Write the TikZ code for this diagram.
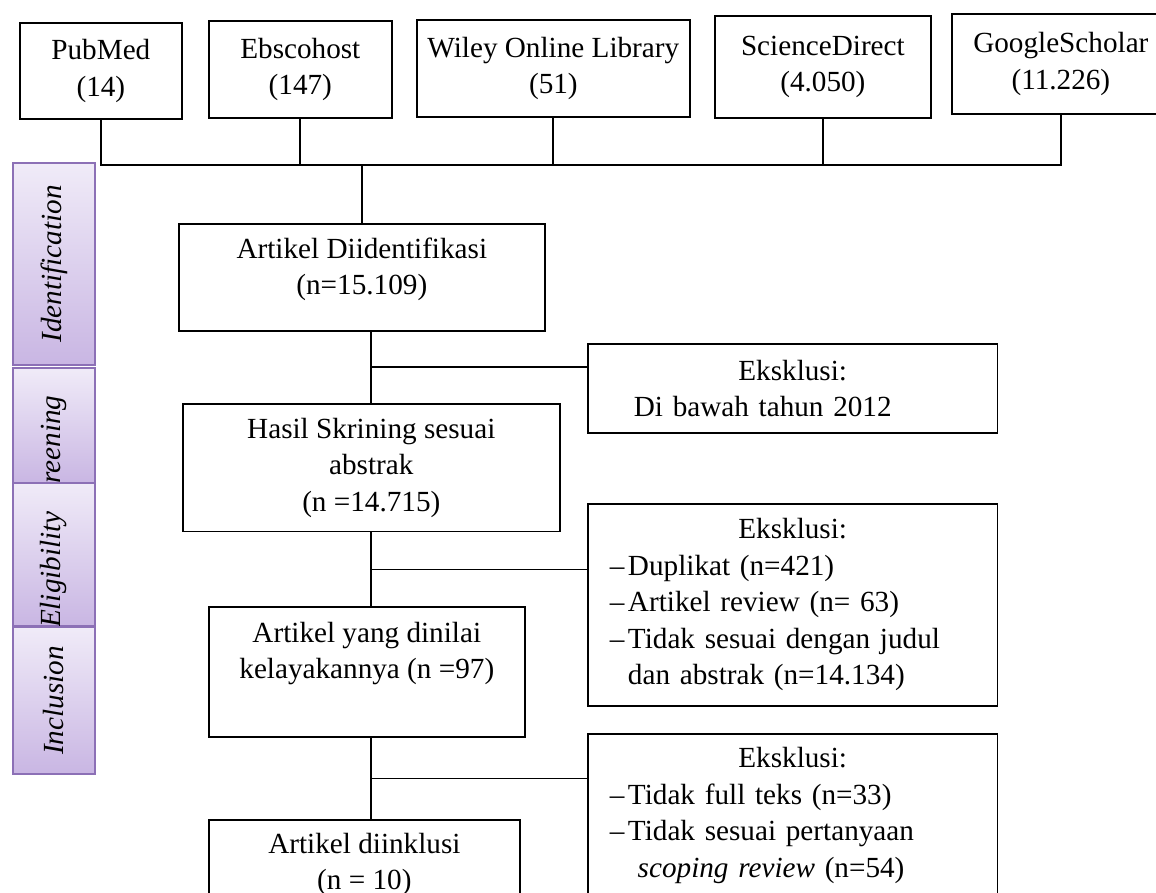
\documentclass[tikz,border=0pt]{standalone}
\usepackage{fontspec}
\setmainfont{Liberation Serif}
\usetikzlibrary{positioning}

\definecolor{phtop}{HTML}{F0EBF8}
\definecolor{phbot}{HTML}{C9B6E3}
\definecolor{phline}{HTML}{8C70B6}

\tikzset{
  box/.style={draw,line width=0.7pt,align=center,inner sep=0pt,font=\fontsize{12}{15}\selectfont},
  srcbox/.style={box,anchor=north west},
  exbox/.style={draw,line width=0.7pt,align=left,inner xsep=9pt,inner ysep=0pt,text width=150.4pt,
    minimum width=168.4pt,anchor=north west,font=\fontsize{12}{15}\selectfont},
  phase/.style={draw=phline,line width=0.8pt,top color=phtop,bottom color=phbot,minimum width=33.6pt,
    inner sep=0pt,anchor=north west,font=\fontsize{12}{15}\selectfont\itshape},
  link/.style={line width=0.7pt}
}
\newcommand{\xitem}{\textendash\kern1.5pt}
\newcommand{\exhead}{\makebox[150.4pt]{Eksklusi:}}
\newcommand{\phtext}[2]{\rotatebox{90}{\makebox[0pt]{\kern#1 #2}}}

\begin{document}
\begin{tikzpicture}[x=0.411pt,y=-0.411pt]
\useasboundingbox (0,0) rectangle (1156,893);
\clip (0,0) rectangle (1156,893);

% sources
\node[srcbox,minimum width=66.6pt,minimum height=39.5pt] (pubmed) at (19,22) {PubMed\\(14)};
\node[srcbox,minimum width=75.2pt,minimum height=39.9pt] (ebsco) at (208,20) {Ebscohost\\(147)};
\node[srcbox,minimum width=112.2pt,minimum height=39.9pt] (wiley) at (416,19) {Wiley Online Library\\(51)};
\node[srcbox,minimum width=88.8pt,minimum height=41.9pt] (sd) at (714,15) {ScienceDirect\\(4.050)};
\node[srcbox,minimum width=89.6pt,minimum height=41.1pt] (gs) at (951,13) {GoogleScholar\\(11.226)};

% phases
\node[phase,minimum height=83pt] (ph1) at (12,162) {\phtext{0pt}{Identification}};
\node[phase,minimum height=47.3pt] (ph2) at (12,367) {\phtext{-23pt}{Screening}};
\node[phase,minimum height=58.8pt] (ph3) at (12,482) {\phtext{-12.4pt}{Eligibility}};
\node[phase,minimum height=60.4pt] (ph4) at (12,626) {\phtext{0pt}{Inclusion}};

% main column
\node[box,anchor=north west,minimum width=150.4pt,minimum height=44pt,text depth=9pt] (ident) at (178,223)
  {Artikel Diidentifikasi\\(n=15.109)};
\node[box,below=29.2pt of ident,xshift=3.9pt,minimum width=154.9pt,minimum height=52.6pt] (screen)
  {Hasil Skrining sesuai\\abstrak\\(n =14.715)};
\node[box,below=30.4pt of screen,xshift=-1.85pt,minimum width=129.9pt,minimum height=53.4pt,text depth=18pt] (assess)
  {Artikel yang dinilai\\kelayakannya (n =97)};
\node[box,below=33.3pt of assess,xshift=-1pt,minimum width=127.8pt,minimum height=36.6pt] (incl)
  {Artikel diinklusi\\(n = 10)};

% exclusions
\node[exbox,minimum height=36.6pt] (excl1) at (587,343)
  {\exhead\\\hspace*{9.9pt}Di bawah tahun 2012};
\node[exbox,minimum height=83pt] (excl2) at (587,503)
  {\exhead\\\xitem Duplikat (n=421)\\\xitem Artikel review (n= 63)\\\xitem Tidak sesuai dengan judul\\
   \phantom{\xitem}dan abstrak (n=14.134)};
\node[exbox,minimum height=67pt] (excl3) at (587,733)
  {\exhead\\\xitem Tidak full teks (n=33)\\\xitem Tidak sesuai pertanyaan\\
   \phantom{\xitem}\hspace*{4pt}\textit{scoping review} (n=54)};

% connectors
\coordinate (bus) at (0,165);
\draw[link] (pubmed.south) -- (pubmed.south |- bus) -- (gs.south |- bus) -- (gs.south);
\foreach \src in {ebsco,wiley,sd}
  \draw[link] (\src.south) -- (\src.south |- bus);
\draw[link] (ident.north) -- (ident.north |- bus);

\draw[link] (ident.south -| screen.north) -- coordinate (br1) (screen.north);
\draw[link] (br1) -- (br1 -| excl1.west);
\draw[link] (screen.south) -- coordinate (br2) (screen.south |- assess.north);
\draw[link] (br2) -- (br2 -| excl2.west);
\draw[link] (assess.south -| screen.south) -- coordinate (br3) (screen.south |- incl.north);
\draw[link] (br3) -- (br3 -| excl3.west);
\end{tikzpicture}
\end{document}
